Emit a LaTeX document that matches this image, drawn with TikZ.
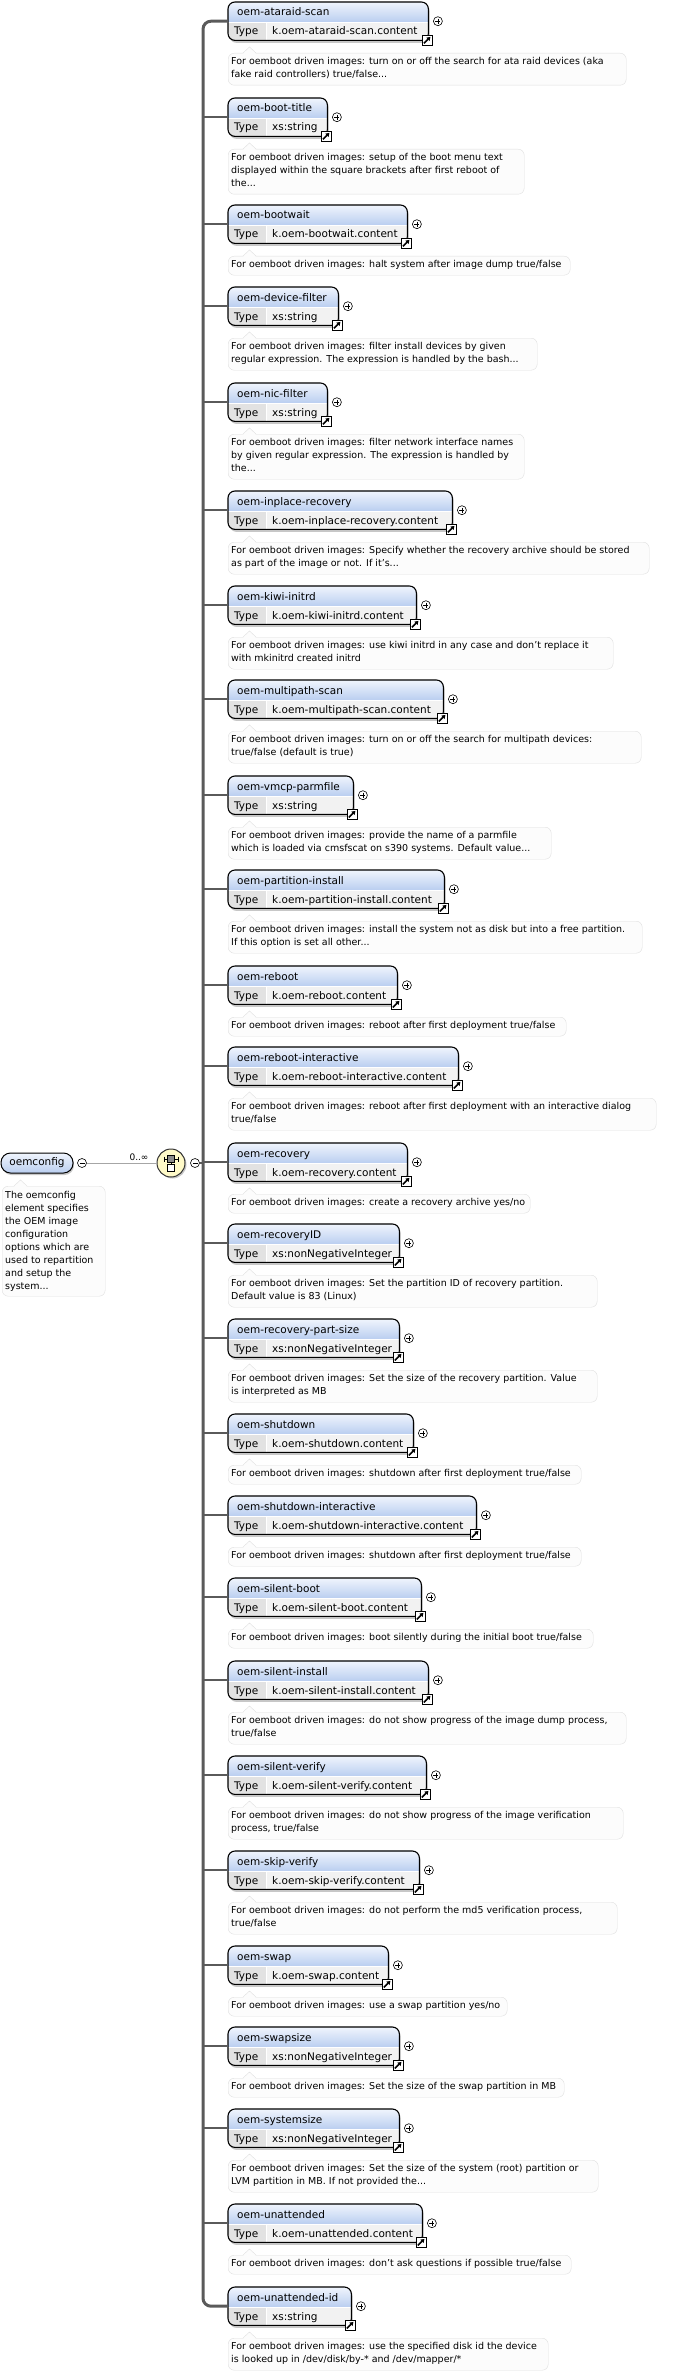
\documentclass[tikz,border=0pt]{standalone}
\usepackage{fontspec}
\setmainfont{DejaVu Sans}
\usetikzlibrary{arrows.meta,shadows}
\definecolor{hdtop}{RGB}{240,245,253}
\definecolor{hdbot}{RGB}{186,206,240}
\definecolor{typebg}{RGB}{242,242,242}
\definecolor{typecell}{RGB}{226,226,226}
\definecolor{docfill}{RGB}{252,252,252}
\definecolor{docline}{RGB}{222,222,222}
\definecolor{busgray}{RGB}{90,90,90}
\definecolor{seqfill}{RGB}{255,250,200}

\begin{document}
\begin{tikzpicture}[x=1pt, y=-1pt,
  boxfont/.style={font=\fontsize{10.5}{12}\selectfont},
  elbox/.style={rectangle, minimum height=38pt, inner sep=0},
  eltext/.style={boxfont, inner sep=0, anchor=base west},
  elshadow/.style={fill=black!22, rounded corners=7},
  elline/.style={draw=black, line width=1.1pt, rounded corners=7},
  pm/.style={circle, draw=black, line width=0.6pt, fill=white, minimum size=9pt, inner sep=0},
  icon/.style={rectangle, draw=black, line width=0.7pt, fill=white, minimum size=10pt, inner sep=0},
  docbox/.style={rectangle, draw=docline, fill=docfill, rounded corners=6, inner sep=0, anchor=north west},
  doctext/.style={font=\fontsize{9.5}{13}\selectfont, align=left, inner sep=0, anchor=north west},
  pill/.style={rectangle, rounded corners=9.5, draw=black, line width=1pt, top color=hdtop, bottom color=hdbot,
    minimum width=72pt, minimum height=20pt, inner sep=0, boxfont,
    drop shadow={shadow xshift=1pt, shadow yshift=-2pt, fill=black!22, opacity=1}},
  seq/.style={circle, draw=black!80, line width=1pt, fill=seqfill, minimum size=28pt, inner sep=0,
    drop shadow={shadow xshift=1.5pt, shadow yshift=-1.5pt, fill=black!22, opacity=1}},
  bus/.style={draw=busgray, line width=3pt},
  conn/.style={draw=busgray, line width=2.4pt},
  thinline/.style={draw=black!35, line width=0.8pt}]

\useasboundingbox (0,0) rectangle (680,2373);

\def\elem#1#2#3#4#5#6#7#8{
  \pgfmathsetmacro\bw{#3-228}
  \pgfmathsetmacro\dw{#6-228}
  \pgfmathsetmacro\dh{6+13*#7}
  \node[elbox, minimum width=\bw pt, anchor=north west] (#1) at (228,#2) {};
  \fill[elshadow] ([shift={(1.5,2.5)}]#1.north west) rectangle ([shift={(1.5,2.5)}]#1.south east);
  \begin{scope}
    \clip[rounded corners=7] (#1.north west) rectangle (#1.south east);
    \fill[typebg] (#1.north west) rectangle (#1.south east);
    \shade[top color=hdtop, bottom color=hdbot] (#1.north west) rectangle (#3,#2+20);
    \fill[typecell] (228,#2+20) rectangle (266,#2+38);
    \draw[white] (228,#2+20) -- (#3,#2+20) (266,#2+20) -- (266,#2+38);
  \end{scope}
  \path[elline] (#1.north west) rectangle (#1.south east);
  \node[eltext] (#1h) at (237,#2+14) {#4};
  \node[eltext] (#1k) at (234,#2+33) {Type};
  \node[eltext] (#1v) at (272,#2+33) {#5};
  \node[pm] (#1p) at ([xshift=9.5pt]#1.east) {};
  \draw[line width=0.7pt] (#1p.center)+(-2.5,0) -- +(2.5,0) (#1p.center)+(0,-2.5) -- +(0,2.5);
  \node[icon] (#1i) at ([xshift=-1.5pt]#1.south east) {};
  \draw[line width=1.6pt, -{Triangle[length=3.5pt, width=4.5pt]}] ([shift={(-3,3)}]#1i.center) -- ([shift={(3.5,-3.5)}]#1i.center);
  \node[docbox, minimum width=\dw pt, minimum height=\dh pt] (#1d) at (228,#2+51) {};
  \fill[docfill] (243,#2+52) -- (249.5,#2+45) -- (256,#2+52) -- cycle;
  \draw[docline] (243,#2+51) -- (249.5,#2+45) -- (256,#2+51);
  \node[doctext] (#1t) at (231,#2+55) {#8};
}

\elem{ataraid}{2}{428}{oem-ataraid-scan}{k.oem-ataraid-scan.content}{626}{2}{For oemboot driven images: turn on or off the search for ata raid devices (aka\\fake raid controllers) true/false...}
\elem{boottitle}{98}{327}{oem-boot-title}{xs:string}{524}{3}{For oemboot driven images: setup of the boot menu text\\displayed within the square brackets after first reboot of\\the...}
\elem{bootwait}{205}{407}{oem-bootwait}{k.oem-bootwait.content}{570}{1}{For oemboot driven images: halt system after image dump true/false}
\elem{devfilter}{287}{338}{oem-device-filter}{xs:string}{537}{2}{For oemboot driven images: filter install devices by given\\regular expression. The expression is handled by the bash...}
\elem{nicfilter}{383}{327}{oem-nic-filter}{xs:string}{524}{3}{For oemboot driven images: filter network interface names\\by given regular expression. The expression is handled by\\the...}
\elem{inplace}{491}{452}{oem-inplace-recovery}{k.oem-inplace-recovery.content}{649}{2}{For oemboot driven images: Specify whether the recovery archive should be stored\\as part of the image or not. If it's...}
\elem{kiwi}{586}{416}{oem-kiwi-initrd}{k.oem-kiwi-initrd.content}{613}{2}{For oemboot driven images: use kiwi initrd in any case and don't replace it\\with mkinitrd created initrd}
\elem{multipath}{680}{443}{oem-multipath-scan}{k.oem-multipath-scan.content}{641}{2}{For oemboot driven images: turn on or off the search for multipath devices:\\true/false (default is true)}
\elem{vmcp}{776}{353}{oem-vmcp-parmfile}{xs:string}{551}{2}{For oemboot driven images: provide the name of a parmfile\\which is loaded via cmsfscat on s390 systems. Default value...}
\elem{partinstall}{870}{444}{oem-partition-install}{k.oem-partition-install.content}{642}{2}{For oemboot driven images: install the system not as disk but into a free partition.\\If this option is set all other...}
\elem{reboot}{966}{397}{oem-reboot}{k.oem-reboot.content}{566}{1}{For oemboot driven images: reboot after first deployment true/false}
\elem{rebootint}{1047}{458}{oem-reboot-interactive}{k.oem-reboot-interactive.content}{656}{2}{For oemboot driven images: reboot after first deployment with an interactive dialog\\true/false}
\elem{recovery}{1143}{407}{oem-recovery}{k.oem-recovery.content}{530}{1}{For oemboot driven images: create a recovery archive yes/no}
\elem{recoveryid}{1224}{399}{oem-recoveryID}{xs:nonNegativeInteger}{597}{2}{For oemboot driven images: Set the partition ID of recovery partition.\\Default value is 83 (Linux)}
\elem{recpartsize}{1319}{399}{oem-recovery-part-size}{xs:nonNegativeInteger}{597}{2}{For oemboot driven images: Set the size of the recovery partition. Value\\is interpreted as MB}
\elem{shutdown}{1414}{413}{oem-shutdown}{k.oem-shutdown.content}{581}{1}{For oemboot driven images: shutdown after first deployment true/false}
\elem{shutdownint}{1496}{476}{oem-shutdown-interactive}{k.oem-shutdown-interactive.content}{581}{1}{For oemboot driven images: shutdown after first deployment true/false}
\elem{silentboot}{1578}{421}{oem-silent-boot}{k.oem-silent-boot.content}{593}{1}{For oemboot driven images: boot silently during the initial boot true/false}
\elem{silentinstall}{1661}{428}{oem-silent-install}{k.oem-silent-install.content}{626}{2}{For oemboot driven images: do not show progress of the image dump process,\\true/false}
\elem{silentverify}{1756}{426}{oem-silent-verify}{k.oem-silent-verify.content}{623}{2}{For oemboot driven images: do not show progress of the image verification\\process, true/false}
\elem{skipverify}{1851}{419}{oem-skip-verify}{k.oem-skip-verify.content}{617}{2}{For oemboot driven images: do not perform the md5 verification process,\\true/false}
\elem{swap}{1946}{388}{oem-swap}{k.oem-swap.content}{507}{1}{For oemboot driven images: use a swap partition yes/no}
\elem{swapsize}{2027}{399}{oem-swapsize}{xs:nonNegativeInteger}{564}{1}{For oemboot driven images: Set the size of the swap partition in MB}
\elem{systemsize}{2109}{399}{oem-systemsize}{xs:nonNegativeInteger}{598}{2}{For oemboot driven images: Set the size of the system (root) partition or\\LVM partition in MB. If not provided the...}
\elem{unattended}{2204}{422}{oem-unattended}{k.oem-unattended.content}{571}{1}{For oemboot driven images: don't ask questions if possible true/false}
\elem{unattendedid}{2287}{351}{oem-unattended-id}{xs:string}{548}{2}{For oemboot driven images: use the specified disk id the device\\is looked up in /dev/disk/by-* and /dev/mapper/*}

\node[pill] (oemconfig) at (37,1163) {oemconfig};
\node[pm] (cfgm) at (82,1163) {};
\draw[line width=0.7pt] (cfgm.center)+(-2.5,0) -- +(2.5,0);
\node[seq] (seq) at (171,1163) {};
\node[pm] (seqm) at (195,1163) {};
\draw[line width=0.7pt] (seqm.center)+(-2.5,0) -- +(2.5,0);
\draw[thinline] (cfgm) -- (seq);
\node[font=\fontsize{9}{10}\selectfont, inner sep=0, anchor=base] (card) at (139,1160) {0..∞};
\draw[line width=0.8pt] ([shift={(-7,-4)}]seq.center) -- ([shift={(7,-4)}]seq.center)
  ([shift={(-7,-6.5)}]seq.center) -- ([shift={(-7,-1.5)}]seq.center)
  ([shift={(7,-6.5)}]seq.center) -- ([shift={(7,-1.5)}]seq.center);
\filldraw[fill=black!45, line width=0.5pt] ([shift={(-3.5,-7.5)}]seq.center) rectangle ([shift={(3.5,-0.5)}]seq.center);
\draw[line width=0.6pt] ([shift={(0,-0.5)}]seq.center) -- ([shift={(0,1.5)}]seq.center);
\filldraw[fill=white, line width=0.9pt] ([shift={(-3.5,1.5)}]seq.center) rectangle ([shift={(3.5,8.5)}]seq.center);

\node[docbox, minimum width=103pt, minimum height=110pt] (cfgd) at (2,1186) {};
\fill[docfill] (14,1187) -- (20.5,1180) -- (27,1187) -- cycle;
\draw[docline] (14,1186) -- (20.5,1180) -- (27,1186);
\node[doctext] (cfgt) at (5,1191) {The oemconfig\\element specifies\\the OEM image\\configuration\\options which are\\used to repartition\\and setup the\\system...};

\coordinate (hub) at (203,1163);
\draw[conn] (seqm) -- (hub);
\draw[bus, rounded corners=8] (ataraid.west) -| (hub) |- (unattendedid.west);
\foreach \n in {boottitle, bootwait, devfilter, nicfilter, inplace, kiwi, multipath, vmcp, partinstall, reboot,
  rebootint, recovery, recoveryid, recpartsize, shutdown, shutdownint, silentboot, silentinstall, silentverify,
  skipverify, swap, swapsize, systemsize, unattended}
  \draw[conn] (hub |- \n.west) -- (\n.west);
\end{tikzpicture}
\end{document}
